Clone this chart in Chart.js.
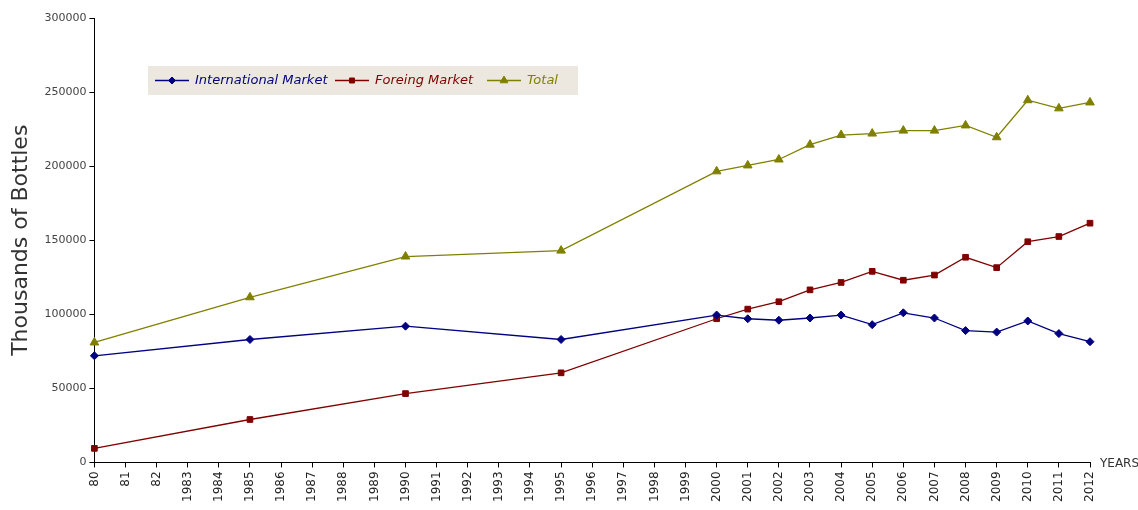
<!DOCTYPE html>
<html>
<head>
<meta charset="utf-8">
<script src="https://cdn.jsdelivr.net/npm/chart.js@4.4.0/dist/chart.umd.min.js"></script>
<style>
  html, body { margin: 0; padding: 0; background: #fff; }
  #wrap { width: 1138px; height: 510px; position: relative; }
</style>
</head>
<body>
<div id="wrap"><canvas id="bottlesChart"></canvas></div>
<script>
// categories on the x axis
const years = ['80', '81', '82', '1983', '1984', '1985', '1986', '1987', '1988', '1989',
    '1990', '1991', '1992', '1993', '1994', '1995', '1996', '1997', '1998', '1999',
    '2000', '2001', '2002', '2003', '2004', '2005', '2006', '2007', '2008', '2009',
    '2010', '2011', '2012'];

// years that actually have a value
const dataYears = ['80', '1985', '1990', '1995', '2000', '2001', '2002', '2003', '2004',
    '2005', '2006', '2007', '2008', '2009', '2010', '2011', '2012'];

const internationalMarket = [72000, 83000, 92000, 83000, 99500, 97000, 96000, 97500, 99500,
    93000, 101000, 97500, 89000, 88000, 95500, 87000, 81500];
const foreingMarket = [9500, 29000, 46500, 60500, 97000, 103500, 108500, 116500, 121500,
    129000, 123000, 126500, 138500, 131500, 149000, 152500, 161500];
const totalBottles = [81000, 111500, 139000, 143000, 196500, 200500, 204500, 214500, 221000,
    222000, 224000, 224000, 227500, 219500, 244500, 239000, 243000];

const yTicks = [0, 50000, 100000, 150000, 200000, 250000, 300000];

// spread series onto the full category list (gaps are null)
function onYears(values) {
    return years.map(y => {
        const i = dataYears.indexOf(y);
        return i >= 0 ? values[i] : null;
    });
}

const series = [
    { label: 'International Market', values: internationalMarket, color: '#000080', style: 'rectRot', radius: 4 },
    { label: 'Foreing Market', values: foreingMarket, color: '#800000', style: 'rect', radius: 4 },
    { label: 'Total', values: totalBottles, color: '#808000', style: 'triangle', radius: 5 }
];

// legend box drawn inside the plot, like the original
const boxLegend = {
    id: 'boxLegend',
    afterDraw(chart) {
        const ctx = chart.ctx;
        const x0 = 148, y0 = 66, w = 430, h = 29;
        ctx.save();
        ctx.fillStyle = '#ece8df';
        ctx.fillRect(x0, y0, w, h);
        const cy = y0 + h / 2;
        const slots = [155, 335, 487];
        ctx.font = 'italic 13px "DejaVu Sans", sans-serif';
        ctx.textBaseline = 'middle';
        series.forEach((s, i) => {
            const lx = slots[i];
            ctx.strokeStyle = s.color;
            ctx.fillStyle = s.color;
            ctx.lineWidth = 1.3;
            ctx.beginPath();
            ctx.moveTo(lx, cy);
            ctx.lineTo(lx + 34, cy);
            ctx.stroke();
            ctx.lineWidth = 1;
            Chart.helpers.drawPoint(ctx, {
                pointStyle: s.style, radius: s.radius - 0.5, borderWidth: 1
            }, lx + 17, cy);
            ctx.fillText(s.label, lx + 40, cy);
        });
        ctx.restore();
    }
};

const yearsLabel = {
    id: 'yearsLabel',
    afterDraw(chart) {
        const ctx = chart.ctx;
        const area = chart.chartArea;
        ctx.save();
        ctx.font = '12px "DejaVu Sans", sans-serif';
        ctx.fillStyle = '#333';
        ctx.textBaseline = 'middle';
        ctx.fillText('YEARS', area.right + 10, area.bottom + 1);
        ctx.restore();
    }
};

const ctx = document.getElementById('bottlesChart').getContext('2d');
new Chart(ctx, {
    type: 'line',
    data: {
        labels: years,
        datasets: series.map(s => ({
            label: s.label,
            data: onYears(s.values),
            borderColor: s.color,
            backgroundColor: s.color,
            borderWidth: 1.3,
            pointStyle: s.style,
            pointRadius: s.radius,
            pointBackgroundColor: s.color,
            pointBorderColor: s.color,
            pointBorderWidth: 1,
            spanGaps: true,
            tension: 0
        }))
    },
    options: {
        responsive: true,
        maintainAspectRatio: false,
        animation: false,
        layout: { padding: { top: 18, right: 48, left: 8, bottom: 4 } },
        plugins: {
            legend: { display: false },
            tooltip: { enabled: false }
        },
        scales: {
            x: {
                offset: false,
                grid: { display: true, drawOnChartArea: false, tickLength: 5, tickColor: '#000' },
                border: { color: '#000', width: 1 },
                ticks: {
                    autoSkip: false,
                    minRotation: 90,
                    maxRotation: 90,
                    color: '#222',
                    font: { size: 12, family: '"DejaVu Sans", sans-serif' },
                    padding: 4
                }
            },
            y: {
                min: 0,
                max: 300000,
                afterBuildTicks: axis => { axis.ticks = yTicks.map(v => ({ value: v })); },
                grid: { display: true, drawOnChartArea: false, tickLength: 5, tickColor: '#000' },
                border: { color: '#000', width: 1 },
                ticks: {
                    color: '#444',
                    font: { size: 11, family: '"DejaVu Sans", sans-serif' },
                    padding: 3,
                    callback: v => String(v)
                },
                title: {
                    display: true,
                    text: 'Thousands of Bottles',
                    color: '#333',
                    font: { size: 22, family: '"DejaVu Sans", sans-serif' },
                    padding: { top: 0, bottom: 7 }
                }
            }
        }
    },
    plugins: [boxLegend, yearsLabel]
});
</script>
</body>
</html>
